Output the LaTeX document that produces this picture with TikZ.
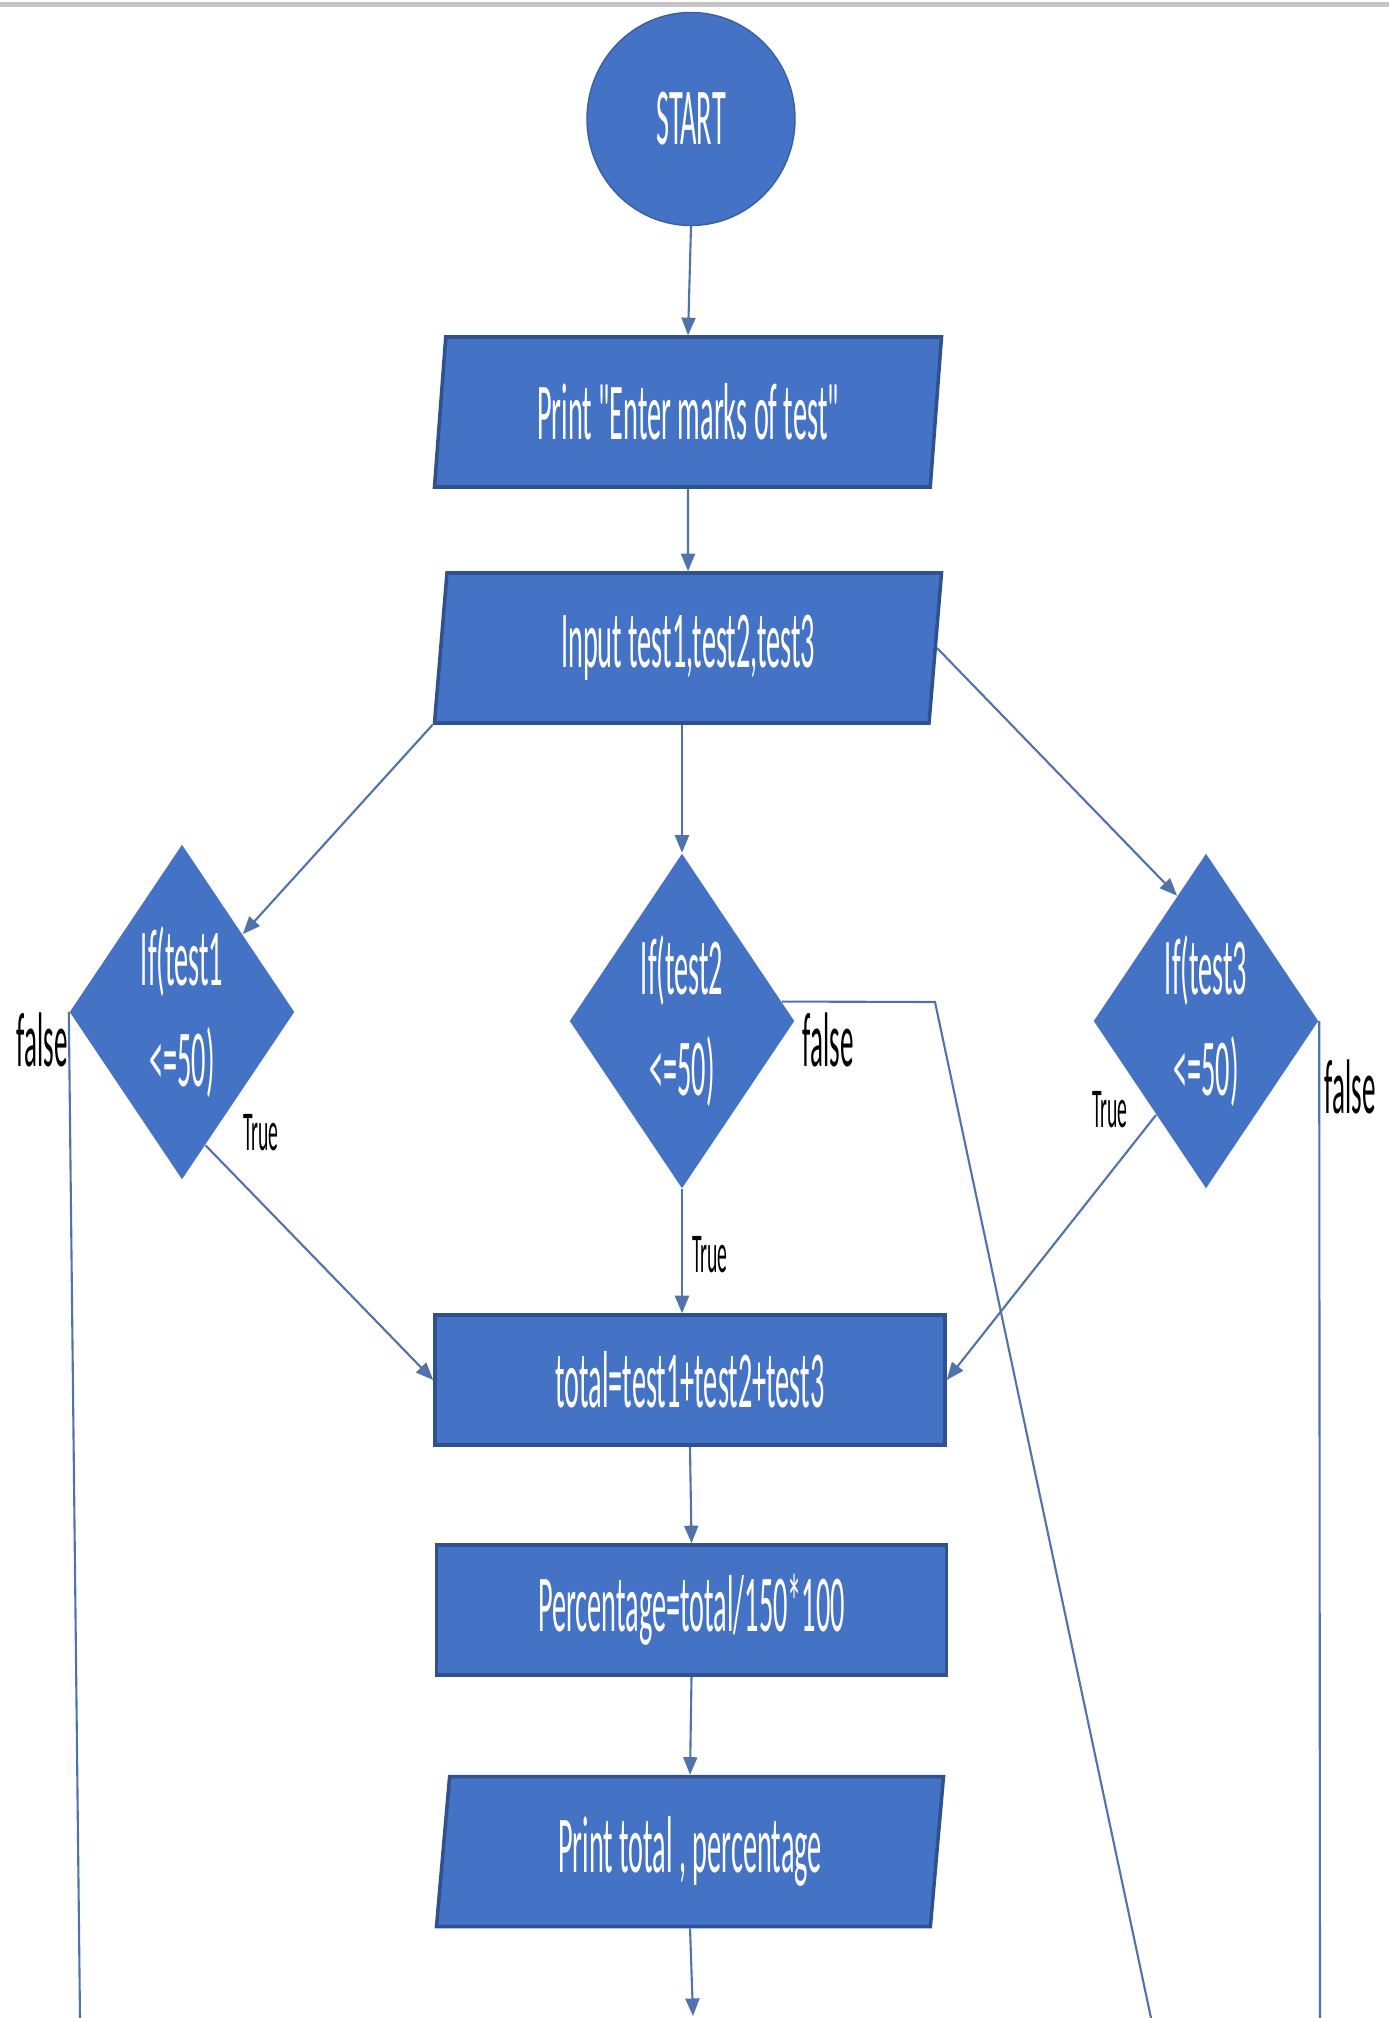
\documentclass[tikz,border=0pt]{standalone}
\usepackage{tikz}
\usepackage{xcolor}
\usepackage{fontspec}
\usetikzlibrary{shapes.geometric, arrows.meta}
\newfontfamily\flowfont[FakeStretch=0.35]{Carlito}
\definecolor{flowblue}{HTML}{4472C4}
\definecolor{flowedge}{HTML}{2F528F}
\definecolor{linkblue}{HTML}{5272AC}

\begin{document}
\begin{tikzpicture}[
        shapetext/.style={text=white, font=\flowfont\fontsize{23}{28.5}\selectfont},
        terminal/.style={ellipse, fill=flowblue, draw=flowedge!60!flowblue, line width=0.4pt, shapetext, minimum width=2.08cm, minimum height=2.13cm},
        iobox/.style={trapezium, trapezium left angle=82, trapezium right angle=98, trapezium stretches body, fill=flowblue, draw=flowedge, line width=1pt, shapetext, minimum width=5.07cm, minimum height=1.5cm},
        procbox/.style={rectangle, fill=flowblue, draw=flowedge, line width=1pt, shapetext, minimum width=5.1cm, minimum height=1.3cm},
        decision/.style={diamond, fill=flowblue, shapetext, align=center, inner sep=0pt, aspect=0.67, minimum width=2.25cm, minimum height=3.35cm},
        flowline/.style={draw=linkblue, line width=0.6pt},
        flowarrow/.style={flowline, -{Triangle[length=5pt,width=4pt]}},
        falselbl/.style={font=\flowfont\fontsize{22}{26}\selectfont},
        truelbl/.style={font=\flowfont\fontsize{16}{19}\selectfont}
    ]
        \fill[white] (0,0) rectangle (13.89,-20.18);
        \useasboundingbox (0,0) rectangle (13.89,-20.18);
        \fill[gray!45] (0,-0.02) rectangle (13.89,-0.07);

        \node[terminal] (start) at (6.91,-1.19) {START};
        \node[iobox] (print1) at (6.88,-4.12) {Print "Enter marks of test"};
        \node[iobox] (input) at (6.88,-6.48) {Input test1,test2,test3};

        \node[decision] (d1) at (1.82,-10.12) {If(test1\\<=50)};
        \node[decision] (d2) at (6.82,-10.21) {If(test2\\<=50)};
        \node[decision] (d3) at (12.06,-10.21) {If(test3\\<=50)};

        \node[procbox] (total) at (6.90,-13.80) {total=test1+test2+test3};
        \node[procbox] (perc) at (6.915,-16.10) {Percentage=total/150*100};
        \node[iobox] (print2) at (6.90,-18.515) {Print total , percentage};

        \node[falselbl] (f1) at (0.42,-10.40) {false};
        \node[truelbl] (t1) at (2.61,-11.33) {True};
        \node[falselbl] (f2) at (8.28,-10.40) {false};
        \node[truelbl] (t2) at (7.10,-12.55) {True};
        \node[truelbl] (t3) at (11.10,-11.10) {True};
        \node[falselbl] (f3) at (13.50,-10.87) {false};

        \coordinate (f1end) at (0.80,-20.18);
        \coordinate (f2turn) at (9.35,-10.02);
        \coordinate (f2end) at (11.51,-20.18);
        \coordinate (f3end) at (13.20,-20.18);
        \coordinate (next) at (6.93,-20.16);

        \draw[flowarrow] (start.south) -- (print1.north);
        \draw[flowarrow] (print1.south) -- (input.north);
        \draw[flowarrow] (input.bottom left corner) -- (d1.52);
        \draw[flowarrow] (input.south -| d2.north) -- (d2.north);
        \draw[flowarrow] (input.east) -- (d3.103);

        \draw[flowarrow] (d1.-80) -- (total.west);
        \draw[flowarrow] (d2.south) -- (d2.south |- total.north);
        \draw[flowarrow] (d3.242) -- (total.east);

        \draw[flowline] (d1.west) -- (f1end);
        \draw[flowline] (d2.11) -- (f2turn) -- (f2end);
        \draw[flowline] (d3.east) -- (f3end);

        \draw[flowarrow] (total.south) -- (perc.north);
        \draw[flowarrow] (perc.south) -- (print2.north);
        \draw[flowarrow] (print2.south) -- (next);
\end{tikzpicture}
\end{document}
